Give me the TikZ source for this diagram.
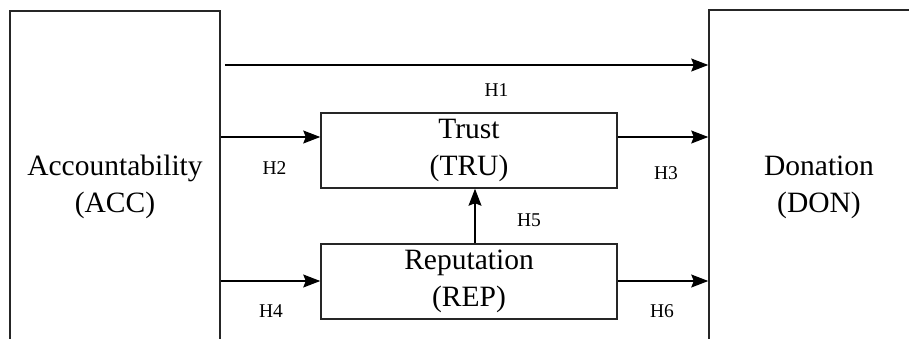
\documentclass[tikz,border=0pt]{standalone}
\usepackage{fontspec}
\setmainfont{Liberation Serif}
\usetikzlibrary{arrows.meta}

\begin{document}
\begin{tikzpicture}[x=1pt,y=-1pt,
  box/.style={draw=black!85, line width=1.5pt, rectangle, inner sep=0pt,
    align=center, font=\fontsize{29.5}{37}\selectfont},
  link/.style={line width=1.2pt, -{Stealth[length=17pt,width=13pt,inset=2.5pt]}},
  hyp/.style={font=\fontsize{19.5}{22}\selectfont, inner sep=0pt}]
\useasboundingbox (0,0) rectangle (909,338);
\clip (0,0) rectangle (909,338);

% outer constructs (run past the page edges)
\node[box, minimum width=210pt, minimum height=352pt] (acc) at (115,187) {Accountability\\(ACC)};
\node[box, minimum width=220pt, minimum height=354pt] (don) at (819,187) {Donation\\(DON)};

% mediators
\node[box, minimum width=296pt, minimum height=75pt] (tru) at (469,150.5) {Trust\\(TRU)};
\node[box, minimum width=296pt, minimum height=75pt] (rep) at (469,281.5) {Reputation\\(REP)};

% rows and column of the paths
\coordinate (r1) at (0,65);
\coordinate (r2) at (0,137);
\coordinate (r4) at (0,281);
\coordinate (c5) at (475,0);

\draw[link] ([xshift=4pt]acc.east |- r1) -- (don.west |- r1);
\draw[link] (acc.east |- r2) -- (tru.west |- r2);
\draw[link] (tru.east |- r2) -- (don.west |- r2);
\draw[link] (acc.east |- r4) -- (rep.west |- r4);
\draw[link] (rep.east |- r4) -- (don.west |- r4);
\draw[link] (rep.north -| c5) -- (tru.south -| c5);

% hypothesis labels
\node[hyp] (h1) at (496.5,90) {H1};
\node[hyp] (h2) at (274.5,168) {H2};
\node[hyp] (h3) at (666,173) {H3};
\node[hyp] (h4) at (271,311.5) {H4};
\node[hyp] (h5) at (529,220) {H5};
\node[hyp] (h6) at (662,311.5) {H6};
\end{tikzpicture}
\end{document}
